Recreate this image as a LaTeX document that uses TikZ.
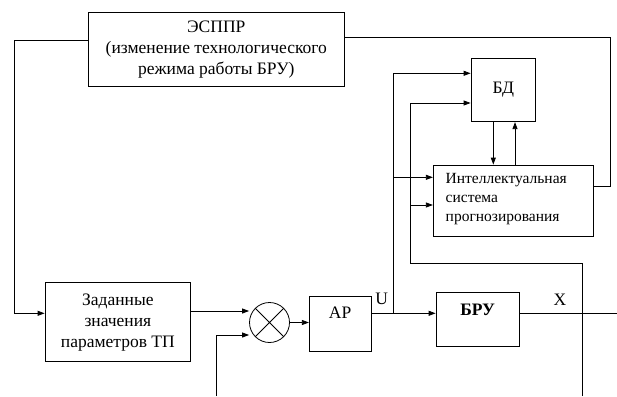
\documentclass[tikz,border=0pt]{standalone}
\usepackage{fontspec}
\setmainfont{Liberation Serif}
\usetikzlibrary{arrows.meta}
\begin{document}
\begin{tikzpicture}[x=1pt,y=-1pt, line width=0.8pt,
  box/.style={draw, rectangle, inner sep=0pt},
  arr/.style={-{Triangle[length=7pt,width=5pt]}},
  txt/.style={font=\fontsize{17.5}{21}\selectfont, align=center},
  stxt/.style={font=\fontsize{15.5}{19}\selectfont, align=left}]
\useasboundingbox (0,0) rectangle (617,396);

\node[box, txt, minimum width=256pt, minimum height=73.3pt] (essppr) at (216.3,49.35)
  {ЭСППР\\(изменение технологического\\режима работы БРУ)};
\node[box, txt, minimum width=145.7pt, minimum height=79pt] (zad) at (117.85,322.2)
  {Заданные\\значения\\параметров ТП};
\node[draw, circle, minimum size=40pt, inner sep=0pt] (sum) at (269.5,322.5) {};
\draw (sum.45) -- (sum.225) (sum.135) -- (sum.315);
\node[box, minimum width=61.7pt, minimum height=55.7pt] (ap) at (340.15,323.85) {};
\node[txt] (aptxt) at (340.15,312.7) {АР};
\node[box, minimum width=83.3pt, minimum height=53.7pt] (bru) at (477.65,319.15) {};
\node[txt, font=\fontsize{17.5}{21}\selectfont\bfseries] (brutxt) at (477.65,310) {БРУ};
\node[box, txt, minimum width=64.7pt, minimum height=63.4pt] (bd) at (503.35,90) {БД};
\node[box, minimum width=160pt, minimum height=71.7pt] (int) at (513.3,200.85) {};
\node[stxt, anchor=west] (inttxt) at (442,199) {Интеллектуальная\\система\\прогнозирования};
\node[txt] (ulab) at (381.7,299.3) {U};
\node[txt] (xlab) at (560,300) {X};

\coordinate (u) at (393.5,313.3);
\coordinate (fbin) at (216.7,396);
\coordinate (xin) at (582.3,396);
\coordinate (out) at (617,313.3);

% left loop from ESSPPR to set values
\draw[arr] (essppr.west |- 0,40) -- (14,40) |- (zad.west |- 0,313.3);
% set values -> summator
\draw[arr] (zad.east |- 0,311) -- (sum.west |- 0,311);
% feedback into summator
\draw[arr] (fbin) |- (sum.west |- 0,335);
% summator -> AP
\draw[arr] (sum.east) -- (ap.west |- sum.east);
% AP -> BRU
\draw[arr] (ap.east |- u) -- (bru.west |- u);
% output
\draw (bru.east |- u) -- (out);
% U branch
\draw[arr] (u) |- (bd.west |- 0,73.3);
\draw[arr] (u |- 0,177.3) -- (int.west |- 0,177.3);
% X measurement branch
\draw[arr] (xin) |- (410,263.3) |- (bd.west |- 0,103);
\draw[arr] (410,205) -- (int.west |- 0,205);
% BD <-> intellectual system
\draw[arr] (bd.south -| 493.3,0) -- (int.north -| 493.3,0);
\draw[arr] (int.north -| 515,0) -- (bd.south -| 515,0);
% intellectual system -> ESSPPR
\draw (int.east |- 0,186) -- (610,186) |- (essppr.east |- 0,37.7);
\end{tikzpicture}
\end{document}
